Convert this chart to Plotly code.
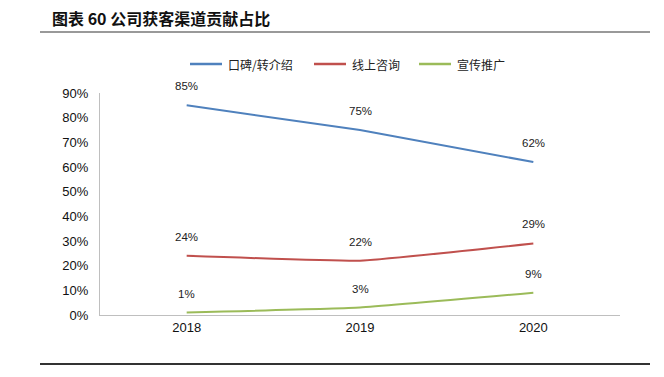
import plotly.graph_objects as go

years = ["2018", "2019", "2020"]
series_names = ["口碑/转介绍", "线上咨询", "宣传推广"]
word_of_mouth = [0.85, 0.75, 0.62]
online = [0.24, 0.22, 0.29]
promotion = [0.01, 0.03, 0.09]
colors = ["#4f81bd", "#c0504d", "#9bbb59"]
y_ticks = [0, 0.1, 0.2, 0.3, 0.4, 0.5, 0.6, 0.7, 0.8, 0.9]
title_text = "图表 60 公司获客渠道贡献占比"

font_cjk = "Noto Sans CJK SC"
font_num = "Liberation Sans, Arial"

W, H = 664, 377
pl, pr, pt, pb = 100, 44, 93, 62
pw, ph = W - pl - pr, H - pt - pb


def px_x(x):
    return (x - pl) / pw


def px_y(y):
    return (H - pb - y) / ph


fig = go.Figure()
annotations = []
all_series = [word_of_mouth, online, promotion]
for name, vals, col in zip(series_names, all_series, colors):
    fig.add_trace(go.Scatter(
        x=years, y=vals, name=name, mode="lines",
        line=dict(color=col, width=2, shape="spline", smoothing=0.3),
        hoverinfo="skip", showlegend=False,
    ))
    for i, v in enumerate(vals):
        annotations.append(dict(
            x=i, y=v, xref="x", yref="y", text=f"{round(v*100)}%",
            showarrow=False, yshift=19, yanchor="middle",
            font=dict(family=font_num, size=11.5, color="#222"),
        ))

# title
annotations.append(dict(
    x=px_x(50), y=px_y(18), xref="paper", yref="paper", text="<b>" + title_text + "</b>",
    showarrow=False, xanchor="left", yanchor="middle",
    font=dict(family=font_cjk, size=16, color="#111"),
))

shapes = [
    dict(type="line", xref="paper", yref="paper", x0=px_x(40), x1=px_x(650),
         y0=px_y(32), y1=px_y(32), line=dict(color="#999", width=2)),
    dict(type="line", xref="paper", yref="paper", x0=px_x(40), x1=px_x(650),
         y0=px_y(364), y1=px_y(364), line=dict(color="#333", width=2)),
]

# custom legend
legend_starts = [190, 314, 419]
ly = 64
for name, col, x0 in zip(series_names, colors, legend_starts):
    shapes.append(dict(type="line", xref="paper", yref="paper", x0=px_x(x0), x1=px_x(x0 + 32),
                       y0=px_y(ly), y1=px_y(ly), line=dict(color=col, width=2.5)))
    annotations.append(dict(x=px_x(x0 + 36), y=px_y(ly), xref="paper", yref="paper", text=name,
                            showarrow=False, xanchor="left", yanchor="middle",
                            font=dict(family=font_cjk, size=12, color="#222")))

fig.update_layout(
    width=W, height=H,
    margin=dict(l=pl, r=pr, t=pt, b=pb),
    paper_bgcolor="white", plot_bgcolor="white",
    showlegend=False,
    xaxis=dict(type="category", showgrid=False, showline=True, linecolor="#bfbfbf",
               linewidth=1, ticks="", tickfont=dict(family=font_num, size=13, color="#111"),
               range=[-0.5, 2.5]),
    yaxis=dict(range=[0, 0.9], tickvals=y_ticks, tickformat=".0%", showgrid=False,
               showline=True, linecolor="#bfbfbf", linewidth=1, ticks="",
               ticklabelstandoff=8, zeroline=False,
               tickfont=dict(family=font_num, size=13, color="#111")),
    annotations=annotations,
    shapes=shapes,
)

fig.write_html("out.html", config={"displayModeBar": False},
               post_script="document.body.style.margin='0';")
